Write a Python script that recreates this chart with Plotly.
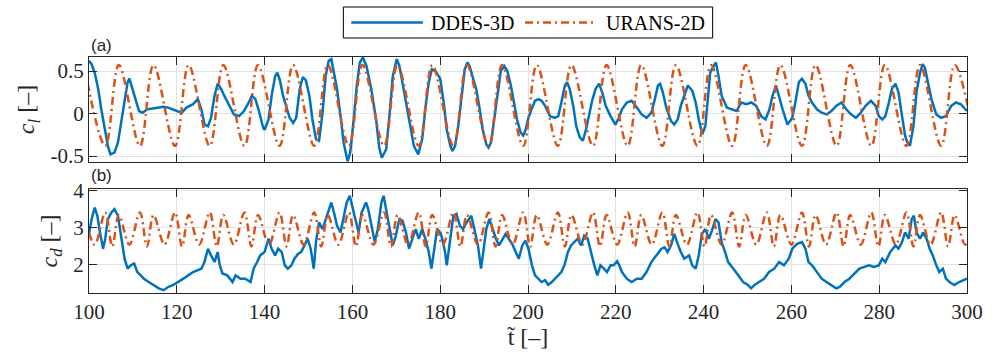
import plotly.graph_objects as go

# ---------------- DATA ----------------
# DDES-3D lift coefficient
t_dd_cl = [100.0, 100.6, 101.3, 102.1, 102.8, 103.6, 104.3, 104.9, 105.8, 106.6, 107.3, 108.1, 108.8, 109.2, 109.9,
           110.7, 111.4, 112.2, 113.3, 114.5, 115.6, 116.5, 117.0, 118.0, 118.5, 119.3, 120.0, 121.1, 122.2, 123.7,
           124.8, 125.6, 126.3, 127.1, 127.8, 128.6, 129.3, 130.1, 130.8, 131.9, 133.0, 134.2, 135.3, 136.4, 137.1,
           137.9, 138.6, 139.7,
           140.0, 140.9, 141.6, 142.4, 142.9, 143.5, 144.2, 145.0, 145.7, 146.5, 147.2, 148.0, 148.7, 149.4, 150.2,
           150.9, 151.7, 152.4, 153.2, 153.9, 154.6, 155.2, 155.8, 156.5, 157.3, 158.0, 158.9, 159.5, 160.3, 161.0,
           161.7, 162.4, 163.2, 164.3, 165.4, 166.1, 166.7, 167.7, 168.5, 169.2, 170.1, 170.7, 171.8, 172.9, 174.0,
           175.0, 175.9, 176.6, 177.4, 178.1, 178.9,
           180.0, 180.8, 181.5, 182.3, 182.8, 183.4, 184.1, 184.9, 185.6, 186.2, 186.7, 187.5, 188.2, 189.0, 189.7,
           190.5, 191.0, 191.6, 192.3, 193.1, 193.8, 194.6, 195.3, 196.1, 196.8, 197.5, 198.3, 198.9, 199.4, 200.1,
           200.8, 201.6, 202.4, 203.1, 203.9, 205.0, 206.1, 206.9, 207.6, 208.4, 208.9, 209.5, 210.3, 211.0, 211.8,
           212.5, 213.2, 214.0, 214.7, 215.4, 216.2, 216.9, 217.7, 218.8, 219.9,
           220.7, 221.4, 222.5, 223.6, 224.8, 225.9, 227.0, 228.1, 228.9, 229.6, 230.1, 230.7, 231.5, 232.6, 233.3,
           234.1, 234.8, 235.6, 236.4, 237.4, 238.2, 238.9, 239.7, 240.4, 241.0, 241.5, 242.3, 242.8, 243.4, 244.1,
           245.3, 246.4, 247.5, 248.6, 249.7, 250.9, 252.0, 253.1, 254.1, 255.0, 255.7, 256.5, 257.3, 258.0, 259.1,
           260.2, 260.9, 261.7, 262.4, 263.2, 263.9, 264.7, 265.8, 266.9, 268.0, 269.1, 270.2, 271.4, 272.5, 273.6,
           274.7, 275.8, 276.9, 278.1, 279.2, 279.9, 280.7, 281.4, 282.2, 282.9, 283.7, 284.4, 285.2, 285.9, 286.4,
           287.0, 287.8, 288.5, 289.3, 289.9, 290.4, 291.1, 291.9, 293.0, 294.1, 295.2, 296.4, 297.5, 298.6, 300.0]
cl_dd = [0.62, 0.58, 0.48, 0.29, 0.05, -0.19, -0.38, -0.48, -0.46, -0.34, -0.11, 0.17, 0.37, 0.41, 0.29,
         0.13, 0.03, 0.01, 0.05, 0.06, 0.07, 0.07, 0.08, 0.07, 0.06, 0.05, 0.03, 0.01, 0.07, 0.11,
         0.17, 0.05, -0.13, -0.15, -0.05, 0.21, 0.35, 0.29, 0.21, 0.09, -0.01, -0.03, 0.03, 0.13, 0.21,
         0.17, 0.05, -0.17,
         -0.19, -0.07, 0.21, 0.44, 0.48, 0.39, 0.21, 0.07, -0.05, -0.11, -0.05, 0.29, 0.43, 0.39, 0.21,
         -0.07, -0.30, -0.32, 0.01, 0.44, 0.62, 0.64, 0.48, 0.29, -0.03, -0.34, -0.56, -0.46, -0.07, 0.33,
         0.60, 0.66, 0.56, 0.29, -0.07, -0.40, -0.52, -0.42, 0.01, 0.44, 0.64, 0.56, 0.25, -0.07, -0.38,
         -0.48, -0.30, 0.05, 0.37, 0.52, 0.50,
         0.41, 0.13, -0.19, -0.38, -0.44, -0.38, -0.15, 0.25, 0.52, 0.60, 0.56, 0.41, 0.29, 0.05, -0.19,
         -0.36, -0.40, -0.34, -0.07, 0.29, 0.50, 0.56, 0.50, 0.33, 0.13, -0.07, -0.22, -0.26, -0.20, -0.05,
         0.05, 0.15, 0.17, 0.15, 0.09, -0.03, -0.05, -0.03, 0.13, 0.33, 0.37, 0.29, 0.09, -0.15, -0.28,
         -0.32, -0.19, 0.01, 0.17, 0.29, 0.35, 0.25, 0.09, -0.03, -0.13,
         -0.05, 0.05, 0.13, 0.15, 0.07, -0.01, -0.05, 0.01, 0.17, 0.33, 0.35, 0.25, 0.07, -0.09, -0.13,
         -0.07, 0.09, 0.21, 0.33, 0.27, 0.13, -0.07, -0.24, -0.15, 0.21, 0.48, 0.56, 0.60, 0.44, 0.21,
         0.07, 0.05, 0.03, 0.13, 0.11, 0.13, 0.09, -0.03, -0.07, 0.05, 0.21, 0.33, 0.17, 0.05, -0.13,
         -0.05, 0.13, 0.37, 0.41, 0.35, 0.21, 0.13, 0.05, 0.01, -0.01, 0.03, 0.09, 0.13, 0.05, -0.01,
         -0.05, 0.01, 0.09, 0.15, 0.09, -0.03, -0.07, -0.03, 0.13, 0.29, 0.35, 0.25, -0.03, -0.26, -0.34,
         -0.38, -0.15, 0.25, 0.48, 0.58, 0.54, 0.37, 0.17, -0.01, -0.05, -0.03, 0.09, 0.13, 0.11, 0.03]

# DDES-3D drag coefficient
t_dd_cd = [100.0, 100.6, 101.3, 101.9, 102.5, 103.2, 103.7, 104.3, 105.1, 105.8, 106.6, 107.3, 108.1, 108.8, 109.5,
           110.3, 111.0, 111.8, 112.5, 113.6, 114.8, 115.9, 117.0, 118.1, 119.2, 120.4, 121.5, 122.6, 123.7, 124.8,
           125.6, 126.3, 127.1, 127.8, 128.6, 129.3, 129.8, 130.4, 131.5, 132.7, 133.4, 134.5, 135.6, 136.8, 137.5,
           138.3, 139.0,
           140.0, 140.9, 141.6, 142.4, 143.1, 143.9, 144.6, 145.3, 146.1, 146.8, 147.6, 148.3, 149.1, 149.8, 150.5,
           151.2, 151.7, 152.4, 153.2, 153.9, 154.6, 155.2, 155.8, 156.5, 157.3, 158.0, 158.7, 159.4, 159.9, 160.6,
           161.4, 162.1, 163.1, 163.6, 164.3, 165.1, 165.8, 166.6, 167.1, 167.7, 168.5, 169.2, 169.9, 170.7, 171.4,
           172.2, 172.9, 173.7, 174.4, 175.1, 175.9, 176.6, 177.4, 178.0, 178.5, 179.3,
           180.0, 180.4, 181.1, 181.5, 182.3, 183.0, 183.7, 184.5, 185.2, 186.0, 187.1, 187.8, 188.6, 189.3, 189.9,
           190.5, 191.2, 191.9, 192.7, 193.4, 194.2, 194.9, 195.6, 196.4, 197.2, 197.9, 198.7, 199.4, 200.1, 200.9,
           201.6, 202.4, 203.1, 203.9, 204.6, 205.4, 206.1, 206.9, 207.6, 208.3, 209.1, 209.8, 210.6, 211.3, 212.1,
           212.8, 213.6, 214.3, 215.1, 215.8, 216.5, 217.3, 218.0, 218.8, 219.5,
           220.3, 220.8, 221.4, 222.5, 223.6, 224.8, 225.9, 227.0, 228.1, 229.2, 230.4, 231.1, 231.8, 232.6, 233.3,
           234.1, 234.8, 235.6, 236.7, 237.4, 238.2, 238.9, 239.6, 240.4, 241.2, 241.9, 242.7, 243.4, 244.1, 244.9,
           245.6, 246.8, 247.9, 249.0, 250.1, 250.8, 251.6, 252.7, 253.8, 254.9, 256.1, 257.2, 258.3, 259.4,
           260.2, 261.3, 262.4, 263.2, 263.9, 264.7, 265.8, 266.9, 268.0, 269.1, 270.2, 271.0, 272.1, 273.2, 274.3,
           275.5, 276.6, 277.7, 278.8, 279.9, 280.7, 281.4, 282.5, 283.7, 284.4, 285.2, 285.9, 286.7, 287.4, 287.9,
           288.5, 289.3, 290.0, 290.8, 291.5, 292.2, 293.0, 293.7, 294.5, 295.2, 296.0, 297.1, 298.2, 299.3, 300.0]
cd_dd = [2.84, 3.24, 3.55, 3.33, 2.88, 2.44, 2.71, 3.24, 3.42, 3.51, 3.33, 2.79, 2.17, 1.90, 1.99,
         2.04, 1.81, 1.72, 1.63, 1.54, 1.46, 1.37, 1.32, 1.41, 1.46, 1.54, 1.63, 1.72, 1.81, 1.86,
         1.90, 2.08, 2.44, 2.26, 2.08, 2.35, 1.99, 1.77, 1.72, 1.54, 1.72, 1.63, 1.63, 1.54, 1.90,
         2.08, 2.26,
         2.35, 2.71, 2.44, 2.26, 2.44, 2.35, 1.99, 1.90, 1.99, 2.17, 2.30, 2.35, 2.53, 2.71, 2.44,
         1.90, 2.62, 3.15, 2.97, 3.24, 3.51, 3.69, 3.42, 3.06, 2.88, 3.24, 3.69, 3.87, 3.60, 3.24,
         2.88, 3.42, 3.69, 3.51, 3.06, 2.62, 2.97, 3.69, 3.87, 3.51, 2.97, 2.53, 2.79, 3.24, 3.20,
         2.88, 2.44, 2.71, 2.97, 2.71, 2.97, 2.71, 2.35, 1.90, 2.35, 2.97,
         2.88, 2.75, 2.35, 1.99, 2.71, 3.33, 3.38, 3.06, 2.97, 3.15, 3.33, 2.97, 2.53, 1.90, 2.44,
         2.97, 3.24, 2.97, 2.71, 2.53, 2.71, 2.84, 2.71, 2.57, 2.35, 2.17, 2.53, 2.66, 2.44, 1.99,
         1.72, 1.63, 1.54, 1.59, 1.46, 1.54, 1.63, 1.72, 1.81, 1.99, 2.35, 2.53, 2.62, 2.71, 2.53,
         2.79, 2.71, 2.35, 1.99, 1.72, 1.99, 1.90, 1.81, 1.99, 1.99,
         2.10, 1.99, 1.81, 1.63, 1.54, 1.63, 1.63, 1.81, 2.08, 2.26, 2.44, 2.48, 2.35, 2.53, 2.84,
         2.57, 2.35, 2.17, 2.26, 1.99, 1.90, 2.26, 2.84, 2.97, 2.71, 2.93, 3.24, 3.15, 2.62, 2.35,
         2.08, 1.90, 1.72, 1.54, 1.46, 1.37, 1.46, 1.54, 1.63, 1.81, 1.90, 2.08, 1.99, 2.17,
         2.44, 2.57, 2.62, 2.44, 2.08, 1.99, 1.81, 1.63, 1.54, 1.46, 1.37, 1.41, 1.54, 1.63, 1.77,
         1.90, 1.95, 1.99, 1.95, 1.99, 2.17, 2.08, 2.35, 2.53, 2.44, 2.62, 2.88, 2.71, 3.24, 3.33,
         2.88, 2.71, 2.88, 2.71, 2.44, 2.26, 1.99, 1.81, 1.90, 1.63, 1.54, 1.46, 1.54, 1.59, 1.63]

# URANS-2D lift coefficient: times of maxima / minima and their levels
t_ur_cl_peak = [98.9, 106.8, 114.7, 122.7, 130.6, 138.5, 146.5, 154.4, 162.3, 170.3, 178.2, 186.1, 194.1,
                202.0, 209.9, 217.9, 225.8, 233.7, 241.7, 249.6, 257.5, 265.5, 273.4, 281.3, 289.3, 297.2]
t_ur_cl_trough = [103.7, 111.6, 119.6, 127.5, 135.4, 143.4, 151.3, 159.2, 167.2, 175.1, 183.0, 191.0, 198.9,
                  206.8, 214.8, 222.7, 230.6, 238.6, 246.5, 254.4, 262.4, 270.3, 278.2, 286.2, 294.1, 302.0]
cl_ur_peak = 0.57
cl_ur_trough = -0.38

# URANS-2D drag coefficient: maxima / minima
t_ur_cd_peak = [98.9, 103.7, 106.8, 111.6, 114.7, 119.6, 122.7, 127.5, 130.6, 135.4, 138.5, 143.4, 146.5,
                151.3, 154.4, 159.2, 162.3, 167.2, 170.3, 175.1, 178.2, 183.0, 186.1, 191.0, 194.1, 198.9,
                202.0, 206.8, 209.9, 214.8, 217.9, 222.7, 225.8, 230.6, 233.7, 238.6, 241.7, 246.5, 249.6,
                254.4, 257.5, 262.4, 265.5, 270.3, 273.4, 278.2, 281.3, 286.2, 289.3, 294.1, 297.2, 302.0]
cd_ur_peak = [3.35, 3.42, 3.35, 3.42, 3.35, 3.42, 3.35, 3.42, 3.35, 3.42, 3.35, 3.42, 3.35,
              3.42, 3.35, 3.42, 3.35, 3.42, 3.35, 3.42, 3.35, 3.42, 3.35, 3.42, 3.35, 3.42,
              3.35, 3.42, 3.35, 3.42, 3.35, 3.42, 3.35, 3.42, 3.35, 3.42, 3.35, 3.42, 3.35,
              3.42, 3.35, 3.42, 3.35, 3.42, 3.35, 3.42, 3.35, 3.42, 3.35, 3.42, 3.35, 3.42]
t_ur_cd_trough = [101.3, 105.3, 109.2, 113.2, 117.2, 121.2, 125.1, 129.1, 133.0, 137.0, 141.0, 145.0, 148.9,
                  152.9, 156.8, 160.8, 164.8, 168.8, 172.7, 176.7, 180.6, 184.6, 188.6, 192.6, 196.5, 200.5,
                  204.4, 208.4, 212.4, 216.4, 220.3, 224.3, 228.2, 232.2, 236.2, 240.2, 244.1, 248.1, 252.0,
                  256.0, 260.0, 264.0, 267.9, 271.9, 275.8, 279.8, 283.8, 287.8, 291.7, 295.7, 299.6]
cd_ur_trough = [2.55, 2.50, 2.55, 2.50, 2.55, 2.50, 2.55, 2.50, 2.55, 2.50, 2.55, 2.50, 2.55,
                2.50, 2.55, 2.50, 2.55, 2.50, 2.55, 2.50, 2.55, 2.50, 2.55, 2.50, 2.55, 2.50,
                2.55, 2.50, 2.55, 2.50, 2.55, 2.50, 2.55, 2.50, 2.55, 2.50, 2.55, 2.50, 2.55,
                2.50, 2.55, 2.50, 2.55, 2.50, 2.55, 2.50, 2.55, 2.50, 2.55, 2.50, 2.55]

x_ticks = [100, 120, 140, 160, 180, 200, 220, 240, 260, 280, 300]
cl_ticks = [-0.5, 0, 0.5]
cl_ticklabels = ["-0.5", "0", "0.5"]
cd_ticks = [2, 3, 4]
cd_ticklabels = ["2", "3", "4"]
series_names = ["DDES-3D", "URANS-2D"]

# ---------------- build URANS series from the extrema ----------------
def merge(ta, va, tb, vb):
    pts = sorted([(t, v) for t, v in zip(ta, va)] + [(t, v) for t, v in zip(tb, vb)])
    return [p[0] for p in pts], [p[1] for p in pts]

t_ur_cl, cl_ur = merge(t_ur_cl_peak, [cl_ur_peak] * len(t_ur_cl_peak),
                       t_ur_cl_trough, [cl_ur_trough] * len(t_ur_cl_trough))
t_ur_cd, cd_ur = merge(t_ur_cd_peak, cd_ur_peak, t_ur_cd_trough, cd_ur_trough)

BLUE = "#0072BD"
ORANGE = "#D95319"
AX = "#262626"
GRID = "#e2e2e2"
SERIF = "Liberation Serif"
SANS = "Liberation Sans"
DASH = "8px,4px,2px,4px"
LW = 2.5

fig = go.Figure()
fig.add_trace(go.Scatter(x=t_dd_cl, y=cl_dd, xaxis="x2", yaxis="y2", mode="lines", name=series_names[0],
                         line=dict(color=BLUE, width=LW)))
fig.add_trace(go.Scatter(x=t_ur_cl, y=cl_ur, xaxis="x2", yaxis="y2", mode="lines", name=series_names[1],
                         line=dict(color=ORANGE, width=LW, dash=DASH, shape="spline", smoothing=1.0)))
fig.add_trace(go.Scatter(x=t_dd_cd, y=cd_dd, xaxis="x", yaxis="y", mode="lines", name=series_names[0],
                         line=dict(color=BLUE, width=LW)))
fig.add_trace(go.Scatter(x=t_ur_cd, y=cd_ur, xaxis="x", yaxis="y", mode="lines", name=series_names[1],
                         line=dict(color=ORANGE, width=LW, dash=DASH, shape="spline", smoothing=1.0)))

common = dict(showline=True, linecolor=AX, linewidth=1.3, mirror="ticks", ticks="inside", ticklen=8,
              tickwidth=1.2, tickcolor=AX, showgrid=True, gridcolor=GRID, gridwidth=1, zeroline=False,
              tickfont=dict(family=SERIF, size=21, color=AX), ticklabeloverflow="allow")

# legend drawn as a framed box above the panels (paper coordinates)
leg_y = 1.146
shapes = [
    dict(type="rect", xref="paper", yref="paper", x0=0.2897, x1=0.7103, y0=1.0805, y1=1.2119,
         line=dict(color="black", width=1), fillcolor="white"),
    dict(type="line", xref="paper", yref="paper", x0=0.2987, x1=0.3803, y0=leg_y, y1=leg_y,
         line=dict(color=BLUE, width=LW)),
    dict(type="line", xref="paper", yref="paper", x0=0.4966, x1=0.5783, y0=leg_y, y1=leg_y,
         line=dict(color=ORANGE, width=LW, dash=DASH)),
]
annotations = [
    dict(text=series_names[0], xref="paper", yref="paper", x=0.387, y=leg_y, xanchor="left", yanchor="middle",
         showarrow=False, font=dict(family=SERIF, size=20, color="black")),
    dict(text=series_names[1], xref="paper", yref="paper", x=0.5861, y=leg_y, xanchor="left", yanchor="middle",
         showarrow=False, font=dict(family=SERIF, size=20, color="black")),
    dict(text="(a)", xref="paper", yref="paper", x=0, y=1.047, xanchor="left", yanchor="middle",
         showarrow=False, font=dict(family=SANS, size=17, color=AX)),
    dict(text="(b)", xref="paper", yref="paper", x=0, y=0.496, xanchor="left", yanchor="middle",
         showarrow=False, font=dict(family=SANS, size=17, color=AX)),
]

fig.update_layout(
    width=995, height=355,
    margin=dict(l=89, r=12, t=57, b=62),
    paper_bgcolor="white", plot_bgcolor="white",
    showlegend=False,
    xaxis=dict(domain=[0, 1], range=[100, 300], anchor="y", tickvals=x_ticks,
               title=dict(text="t\u0303 [\u2013]", font=dict(family=SERIF, size=24, color=AX), standoff=2),
               **common),
    xaxis2=dict(domain=[0, 1], range=[100, 300], anchor="y2", matches="x", tickvals=x_ticks,
                showticklabels=False, **common),
    yaxis=dict(domain=[0, 0.4407], range=[1.243, 4.054], anchor="x", tickvals=cd_ticks, ticktext=cd_ticklabels,
               title=dict(text="<i>c<sub>d</sub></i> [\u2013]", font=dict(family=SERIF, size=24, color=AX),
                          standoff=8),
               **common),
    yaxis2=dict(domain=[0.555, 1], range=[-0.57, 0.665], anchor="x2", tickvals=cl_ticks, ticktext=cl_ticklabels,
                title=dict(text="<i>c<sub>l</sub></i> [\u2013]", font=dict(family=SERIF, size=24, color=AX),
                           standoff=8),
                **common),
    shapes=shapes,
    annotations=annotations,
)

fig.write_html("out.html")
